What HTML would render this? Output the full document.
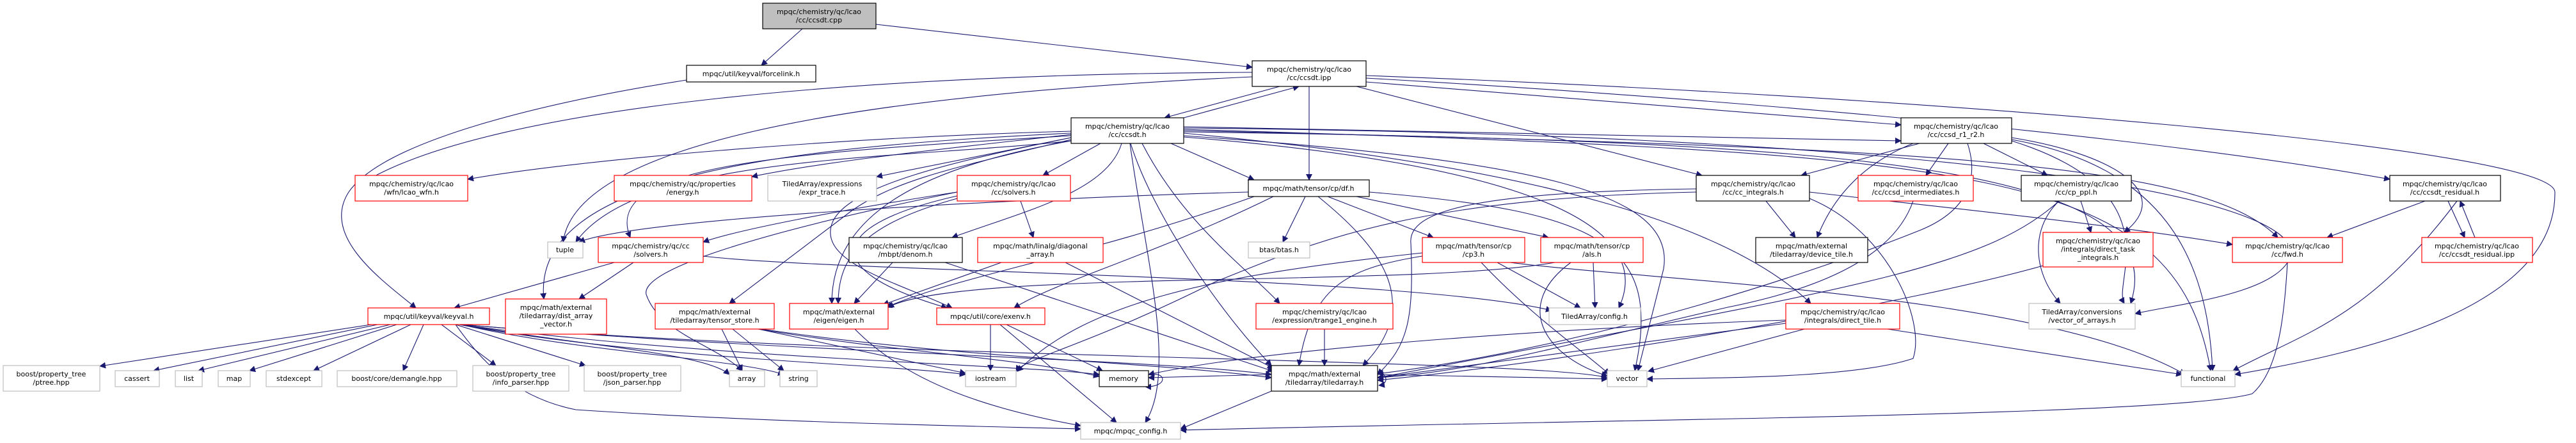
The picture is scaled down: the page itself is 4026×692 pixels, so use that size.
<!DOCTYPE html>
<html><head><meta charset="utf-8"><style>
html,body{margin:0;padding:0;background:#fff}
svg{display:block}
text{font-family:"DejaVu Sans","Liberation Sans",sans-serif;font-size:11px;fill:#000}
.e{fill:none;stroke:#191970;stroke-width:1.1}
.b{fill:#fff;stroke:#000;stroke-width:1.2}
.r{fill:#fff;stroke:#ff0000;stroke-width:1.2}
.g{fill:#fff;stroke:#bfbfbf;stroke-width:1.2}
</style></head><body>
<svg width="4026" height="692" viewBox="0 0 4026 692" xmlns="http://www.w3.org/2000/svg">
<defs><marker id="a" viewBox="0 0 10 10" refX="9" refY="5" markerWidth="10" markerHeight="10" orient="auto" markerUnits="userSpaceOnUse"><path d="M0,0 L10,5 L0,10 z" fill="#191970"/></marker></defs>
<g class="e" marker-end="url(#a)">
<path d="M1254,45 L1190,102"/>
<path d="M1369,38 L1957,105"/>
<path d="M1073,125 C850,160 600,220 545,300 C500,370 600,440 650,481"/>
<path d="M1957,113 C1400,115 760,160 560,290"/>
<path d="M2000,135 L1820,184"/>
<path d="M1850,184 L2030,135"/>
<path d="M2046,135 L2046,281"/>
<path d="M2120,135 L2660,274"/>
<path d="M2135,128 L2971,195"/>
<path d="M2135,122 C2800,160 3400,220 3735,280"/>
<path d="M2135,118 C3000,150 3990,230 3993,300 C3995,480 3700,550 3493,585"/>
<path d="M1957,120 C1300,150 900,230 880,378"/>
<path d="M1674,205 C1300,215 900,250 731,280"/>
<path d="M1674,210 C1500,230 1300,250 1175,276"/>
<path d="M1674,215 C1550,240 1450,260 1370,276"/>
<path d="M1720,224 L1630,274"/>
<path d="M1674,220 C1400,250 1000,240 900,378"/>
<path d="M1674,212 C1200,240 940,260 985,371"/>
<path d="M1674,208 C1200,230 830,280 850,467"/>
<path d="M1753,224 C1730,300 1600,330 1488,371"/>
<path d="M1830,224 L1960,281"/>
<path d="M1674,218 C1500,260 1400,280 1330,330 L1140,474"/>
<path d="M1674,220 C1450,260 1300,330 1300,474"/>
<path d="M1674,215 C1500,250 1320,290 1300,350 C1280,410 1400,440 1488,481"/>
<path d="M1767,224 C1800,330 1900,480 1987,571"/>
<path d="M1766,224 C1790,400 1840,580 1790,660"/>
<path d="M1785,224 C1850,350 1950,420 2000,474"/>
<path d="M1850,214 C2300,250 2600,330 2530,481"/>
<path d="M1850,212 C2400,250 2620,300 2600,420 L2560,579"/>
<path d="M1850,208 C2400,260 2700,350 2830,474"/>
<path d="M1850,206 C2900,220 3400,260 3330,474"/>
<path d="M1850,204 C3000,230 3440,250 3560,371"/>
<path d="M1850,202 C3100,240 3400,260 3455,579"/>
<path d="M1850,198 L2971,220"/>
<path d="M1850,200 C3000,210 3600,300 3580,400 C3560,460 3400,475 3337,490"/>
<path d="M1496,300 C1300,330 1150,360 1099,378"/>
<path d="M1595,314 L1615,371"/>
<path d="M1496,310 C1350,350 1310,400 1310,474"/>
<path d="M1496,306 C1300,350 1270,420 1480,481"/>
<path d="M1496,300 C1200,360 1000,420 1010,460 C1030,520 1120,540 1160,579"/>
<path d="M960,410 L710,481"/>
<path d="M990,410 L905,467"/>
<path d="M1099,400 C1300,425 2200,430 2425,485"/>
<path d="M1395,410 L1335,474"/>
<path d="M1477,410 L1990,580"/>
<path d="M1565,410 L1380,476"/>
<path d="M1665,410 L1990,575"/>
<path d="M1951,300 C1600,310 1000,340 905,378"/>
<path d="M2040,307 L2005,378"/>
<path d="M2075,307 L2240,371"/>
<path d="M2120,307 L2420,371"/>
<path d="M2060,307 C2150,380 2230,470 2130,571"/>
<path d="M2140,300 C2500,330 2600,380 2555,579"/>
<path d="M1960,307 C1700,400 1500,430 1385,480"/>
<path d="M1990,307 C1800,400 1650,440 1585,481"/>
<path d="M2340,410 L2470,481"/>
<path d="M2315,410 C2400,500 2490,560 2515,585"/>
<path d="M2223,400 C2100,420 2050,450 2030,571"/>
<path d="M2360,410 C2600,440 3200,460 3415,585"/>
<path d="M2223,395 C1900,430 1700,470 1590,580"/>
<path d="M2490,410 L2493,481"/>
<path d="M2455,410 C2360,480 2420,560 2512,587"/>
<path d="M2430,410 C2200,450 1500,420 1388,480"/>
<path d="M2760,314 L2806,371"/>
<path d="M2828,300 C3000,320 3300,350 3489,382"/>
<path d="M2651,295 C2300,300 2200,330 2205,380 C2210,500 2200,540 2153,585"/>
<path d="M2651,300 C2200,310 2050,380 1900,440 C1700,540 1600,560 1588,580"/>
<path d="M2828,310 C2950,360 3010,500 2990,560 C2900,590 2700,590 2574,592"/>
<path d="M2990,314 C2960,400 2850,450 2700,480 C2400,550 2300,580 2153,590"/>
<path d="M3000,224 L2815,274"/>
<path d="M3045,224 L3010,274"/>
<path d="M3100,224 L3200,274"/>
<path d="M2990,224 C2900,260 2860,320 2840,371"/>
<path d="M3144,215 C3300,240 3400,300 3320,363"/>
<path d="M3144,220 C3400,300 3300,440 3320,474"/>
<path d="M3075,224 C3100,300 3050,340 3000,360 C2850,420 2500,540 2153,584"/>
<path d="M3144,218 C3380,260 3450,400 3458,579"/>
<path d="M3252,314 L3268,363"/>
<path d="M3218,314 C3170,360 3180,430 3220,474"/>
<path d="M3218,314 C3100,420 2900,450 2153,590"/>
<path d="M3193,415 C3000,470 2500,560 2153,594"/>
<path d="M2791,505 L2153,590"/>
<path d="M2820,514 L2576,580"/>
<path d="M2791,500 C2500,510 2000,540 1795,585"/>
<path d="M2950,514 L3410,585"/>
<path d="M3790,314 L3637,371"/>
<path d="M3840,314 C3700,500 3600,520 3490,579"/>
<path d="M3826,314 L3852,371"/>
<path d="M3868,371 L3845,314"/>
<path d="M3575,410 C3570,500 3560,580 3520,615 C3400,650 2500,655 1845,672"/>
<path d="M580,507 L156,572"/>
<path d="M590,507 L240,579"/>
<path d="M610,507 L310,579"/>
<path d="M620,507 L390,579"/>
<path d="M642,507 L490,579"/>
<path d="M662,507 L630,579"/>
<path d="M690,507 L775,571"/>
<path d="M712,507 L915,571"/>
<path d="M712,505 C900,540 1100,550 1140,585"/>
<path d="M712,505 C900,550 1150,560 1225,585"/>
<path d="M712,506 C1000,560 1400,570 1509,585"/>
<path d="M712,506 C1100,560 1600,570 1718,585"/>
<path d="M712,506 C1300,560 2400,560 2512,590"/>
<path d="M712,507 C750,560 800,620 900,640 C1200,660 1500,665 1689,670"/>
<path d="M712,506 C1200,550 1800,560 1987,585"/>
<path d="M1128,514 L1160,579"/>
<path d="M1145,514 L1225,579"/>
<path d="M1185,514 L1509,583"/>
<path d="M1185,514 C1400,550 1600,560 1718,588"/>
<path d="M1190,514 C1500,560 1800,565 1987,590"/>
<path d="M1336,514 C1420,600 1550,640 1689,665"/>
<path d="M1548,507 L1548,579"/>
<path d="M1573,507 L1723,579"/>
<path d="M1563,507 L1745,660"/>
<path d="M2070,514 L2070,571"/>
<path d="M1987,611 L1845,670"/>
<path d="M1987,585 L1795,590"/>
<path d="M2153,585 L2512,592"/>
<path d="M1795,585 C1825,580 1825,605 1790,604"/>
<path d="M2153,580 C2170,585 2170,600 2155,602"/>
</g>
<rect x="1192" y="5" width="177" height="40" fill="#bfbfbf" stroke="#000" stroke-width="1.2"/>
<text x="1280" y="22" text-anchor="middle">mpqc/chemistry/qc/lcao</text><text x="1280" y="35" text-anchor="middle">/cc/ccsdt.cpp</text>
<rect class="b" x="1073" y="102" width="202" height="26"/><text x="1174" y="119" text-anchor="middle">mpqc/util/keyval/forcelink.h</text>
<rect class="b" x="1957" y="95" width="178" height="40"/><text x="2046" y="112" text-anchor="middle">mpqc/chemistry/qc/lcao</text><text x="2046" y="125" text-anchor="middle">/cc/ccsdt.ipp</text>
<rect class="b" x="1674" y="184" width="176" height="40"/><text x="1762" y="201" text-anchor="middle">mpqc/chemistry/qc/lcao</text><text x="1762" y="214" text-anchor="middle">/cc/ccsdt.h</text>
<rect class="b" x="2971" y="184" width="173" height="40"/><text x="3057" y="201" text-anchor="middle">mpqc/chemistry/qc/lcao</text><text x="3057" y="214" text-anchor="middle">/cc/ccsd_r1_r2.h</text>
<rect class="r" x="555" y="274" width="176" height="40"/><text x="643" y="291" text-anchor="middle">mpqc/chemistry/qc/lcao</text><text x="643" y="304" text-anchor="middle">/wfn/lcao_wfn.h</text>
<rect class="r" x="960" y="274" width="215" height="40"/><text x="1067" y="291" text-anchor="middle">mpqc/chemistry/qc/properties</text><text x="1067" y="304" text-anchor="middle">/energy.h</text>
<rect class="g" x="1200" y="274" width="170" height="40"/><text x="1285" y="291" text-anchor="middle">TiledArray/expressions</text><text x="1285" y="304" text-anchor="middle">/expr_trace.h</text>
<rect class="r" x="1496" y="274" width="177" height="40"/><text x="1584" y="291" text-anchor="middle">mpqc/chemistry/qc/lcao</text><text x="1584" y="304" text-anchor="middle">/cc/solvers.h</text>
<rect class="b" x="1951" y="281" width="189" height="26"/><text x="2045" y="298" text-anchor="middle">mpqc/math/tensor/cp/df.h</text>
<rect class="b" x="2651" y="274" width="177" height="40"/><text x="2740" y="291" text-anchor="middle">mpqc/chemistry/qc/lcao</text><text x="2740" y="304" text-anchor="middle">/cc/cc_integrals.h</text>
<rect class="r" x="2904" y="274" width="180" height="40"/><text x="2994" y="291" text-anchor="middle">mpqc/chemistry/qc/lcao</text><text x="2994" y="304" text-anchor="middle">/cc/ccsd_intermediates.h</text>
<rect class="b" x="3159" y="274" width="172" height="40"/><text x="3245" y="291" text-anchor="middle">mpqc/chemistry/qc/lcao</text><text x="3245" y="304" text-anchor="middle">/cc/cp_ppl.h</text>
<rect class="b" x="3735" y="274" width="173" height="40"/><text x="3821" y="291" text-anchor="middle">mpqc/chemistry/qc/lcao</text><text x="3821" y="304" text-anchor="middle">/cc/ccsdt_residual.h</text>
<rect class="g" x="856" y="378" width="55" height="25"/><text x="883" y="394" text-anchor="middle">tuple</text>
<rect class="r" x="935" y="371" width="164" height="39"/><text x="1017" y="388" text-anchor="middle">mpqc/chemistry/qc/cc</text><text x="1017" y="401" text-anchor="middle">/solvers.h</text>
<rect class="b" x="1327" y="371" width="177" height="39"/><text x="1415" y="388" text-anchor="middle">mpqc/chemistry/qc/lcao</text><text x="1415" y="401" text-anchor="middle">/mbpt/denom.h</text>
<rect class="r" x="1528" y="371" width="196" height="39"/><text x="1626" y="388" text-anchor="middle">mpqc/math/linalg/diagonal</text><text x="1626" y="401" text-anchor="middle">_array.h</text>
<rect class="g" x="1951" y="378" width="96" height="25"/><text x="1999" y="394" text-anchor="middle">btas/btas.h</text>
<rect class="r" x="2223" y="371" width="160" height="39"/><text x="2303" y="388" text-anchor="middle">mpqc/math/tensor/cp</text><text x="2303" y="401" text-anchor="middle">/cp3.h</text>
<rect class="r" x="2408" y="371" width="160" height="39"/><text x="2488" y="388" text-anchor="middle">mpqc/math/tensor/cp</text><text x="2488" y="401" text-anchor="middle">/als.h</text>
<rect class="b" x="2744" y="371" width="175" height="39"/><text x="2831" y="388" text-anchor="middle">mpqc/math/external</text><text x="2831" y="401" text-anchor="middle">/tiledarray/device_tile.h</text>
<rect class="r" x="3193" y="363" width="172" height="54"/><text x="3279" y="380" text-anchor="middle">mpqc/chemistry/qc/lcao</text><text x="3279" y="393" text-anchor="middle">/integrals/direct_task</text><text x="3279" y="406" text-anchor="middle">_integrals.h</text>
<rect class="r" x="3489" y="371" width="172" height="39"/><text x="3575" y="388" text-anchor="middle">mpqc/chemistry/qc/lcao</text><text x="3575" y="401" text-anchor="middle">/cc/fwd.h</text>
<rect class="r" x="3785" y="371" width="173" height="39"/><text x="3871" y="388" text-anchor="middle">mpqc/chemistry/qc/lcao</text><text x="3871" y="401" text-anchor="middle">/cc/ccsdt_residual.ipp</text>
<rect class="r" x="575" y="481" width="190" height="26"/><text x="670" y="498" text-anchor="middle">mpqc/util/keyval/keyval.h</text>
<rect class="r" x="790" y="467" width="158" height="55"/><text x="869" y="484" text-anchor="middle">mpqc/math/external</text><text x="869" y="497" text-anchor="middle">/tiledarray/dist_array</text><text x="869" y="510" text-anchor="middle">_vector.h</text>
<rect class="r" x="1024" y="474" width="186" height="40"/><text x="1117" y="491" text-anchor="middle">mpqc/math/external</text><text x="1117" y="504" text-anchor="middle">/tiledarray/tensor_store.h</text>
<rect class="r" x="1234" y="474" width="154" height="40"/><text x="1311" y="491" text-anchor="middle">mpqc/math/external</text><text x="1311" y="504" text-anchor="middle">/eigen/eigen.h</text>
<rect class="r" x="1464" y="481" width="169" height="26"/><text x="1548" y="498" text-anchor="middle">mpqc/util/core/exenv.h</text>
<rect class="r" x="1963" y="474" width="214" height="40"/><text x="2070" y="491" text-anchor="middle">mpqc/chemistry/qc/lcao</text><text x="2070" y="504" text-anchor="middle">/expression/trange1_engine.h</text>
<rect class="g" x="2421" y="481" width="143" height="26"/><text x="2492" y="498" text-anchor="middle">TiledArray/config.h</text>
<rect class="r" x="2791" y="474" width="178" height="40"/><text x="2880" y="491" text-anchor="middle">mpqc/chemistry/qc/lcao</text><text x="2880" y="504" text-anchor="middle">/integrals/direct_tile.h</text>
<rect class="g" x="3171" y="474" width="166" height="40"/><text x="3254" y="491" text-anchor="middle">TiledArray/conversions</text><text x="3254" y="504" text-anchor="middle">/vector_of_arrays.h</text>
<rect class="g" x="5" y="571" width="151" height="40"/><text x="80" y="588" text-anchor="middle">boost/property_tree</text><text x="80" y="601" text-anchor="middle">/ptree.hpp</text>
<rect class="g" x="180" y="579" width="69" height="25"/><text x="214" y="595" text-anchor="middle">cassert</text>
<rect class="g" x="274" y="579" width="42" height="25"/><text x="295" y="595" text-anchor="middle">list</text>
<rect class="g" x="341" y="579" width="50" height="25"/><text x="366" y="595" text-anchor="middle">map</text>
<rect class="g" x="416" y="579" width="87" height="25"/><text x="459" y="595" text-anchor="middle">stdexcept</text>
<rect class="g" x="527" y="579" width="187" height="25"/><text x="620" y="595" text-anchor="middle">boost/core/demangle.hpp</text>
<rect class="g" x="739" y="571" width="150" height="40"/><text x="814" y="588" text-anchor="middle">boost/property_tree</text><text x="814" y="601" text-anchor="middle">/info_parser.hpp</text>
<rect class="g" x="913" y="571" width="151" height="40"/><text x="988" y="588" text-anchor="middle">boost/property_tree</text><text x="988" y="601" text-anchor="middle">/json_parser.hpp</text>
<rect class="g" x="1140" y="579" width="55" height="25"/><text x="1167" y="595" text-anchor="middle">array</text>
<rect class="g" x="1219" y="579" width="58" height="25"/><text x="1248" y="595" text-anchor="middle">string</text>
<rect class="g" x="1509" y="579" width="79" height="25"/><text x="1548" y="595" text-anchor="middle">iostream</text>
<rect class="b" x="1718" y="579" width="77" height="25"/><text x="1756" y="595" text-anchor="middle">memory</text>
<rect class="b" x="1987" y="571" width="166" height="40"/><text x="2070" y="588" text-anchor="middle">mpqc/math/external</text><text x="2070" y="601" text-anchor="middle">/tiledarray/tiledarray.h</text>
<rect class="g" x="2512" y="579" width="62" height="25"/><text x="2543" y="595" text-anchor="middle">vector</text>
<rect class="g" x="3409" y="579" width="84" height="25"/><text x="3451" y="595" text-anchor="middle">functional</text>
<rect class="g" x="1689" y="660" width="156" height="26"/><text x="1767" y="677" text-anchor="middle">mpqc/mpqc_config.h</text>
</svg>
</body></html>
